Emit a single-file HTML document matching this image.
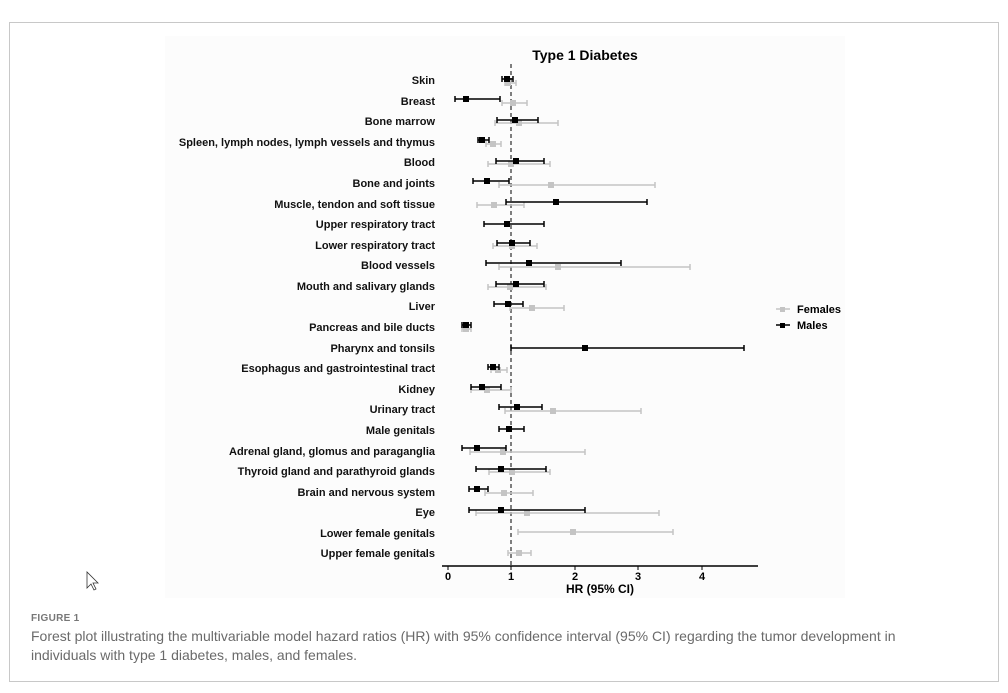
<!DOCTYPE html>
<html><head><meta charset="utf-8"><style>
body{margin:0;background:#fff;width:1008px;height:693px;overflow:hidden;font-family:"Liberation Sans",sans-serif}
.card{position:absolute;left:9px;top:22px;width:990px;height:660px;border:1px solid #c8c8c8;box-sizing:border-box}
.fig{position:absolute;left:31px;top:613px;font-size:10px;font-weight:bold;color:#777;letter-spacing:0.3px}
.cap{position:absolute;left:31px;top:627px;font-size:14px;color:#6a6a6a;line-height:19px;width:895px}
</style></head><body>
<div class="card"></div>
<svg style="position:absolute;left:0;top:0" width="1008" height="693" font-family="Liberation Sans, sans-serif">
<rect x="165" y="36" width="680" height="562" fill="#fcfcfc"/>
<text x="585" y="60" font-size="14" font-weight="bold" text-anchor="middle">Type 1 Diabetes</text>
<g font-size="11" font-weight="bold" text-anchor="end" fill="#111">
<text x="435" y="84">Skin</text>
<text x="435" y="105">Breast</text>
<text x="435" y="125">Bone marrow</text>
<text x="435" y="146">Spleen, lymph nodes, lymph vessels and thymus</text>
<text x="435" y="166">Blood</text>
<text x="435" y="187">Bone and joints</text>
<text x="435" y="208">Muscle, tendon and soft tissue</text>
<text x="435" y="228">Upper respiratory tract</text>
<text x="435" y="249">Lower respiratory tract</text>
<text x="435" y="269">Blood vessels</text>
<text x="435" y="290">Mouth and salivary glands</text>
<text x="435" y="310">Liver</text>
<text x="435" y="331">Pancreas and bile ducts</text>
<text x="435" y="352">Pharynx and tonsils</text>
<text x="435" y="372">Esophagus and gastrointestinal tract</text>
<text x="435" y="393">Kidney</text>
<text x="435" y="413">Urinary tract</text>
<text x="435" y="434">Male genitals</text>
<text x="435" y="455">Adrenal gland, glomus and paraganglia</text>
<text x="435" y="475">Thyroid gland and parathyroid glands</text>
<text x="435" y="496">Brain and nervous system</text>
<text x="435" y="516">Eye</text>
<text x="435" y="537">Lower female genitals</text>
<text x="435" y="557">Upper female genitals</text>
</g>
<line x1="511" y1="64" x2="511" y2="566" stroke="#555" stroke-width="1.5" stroke-dasharray="4,3"/>
<g id="f" stroke="#c4c4c4" stroke-width="1.5" fill="#c4c4c4"></g>
<g id="m" stroke="#000" stroke-width="1.5" fill="#000"></g>
<line x1="442" y1="566" x2="758" y2="566" stroke="#000" stroke-width="1.5"/>
<g stroke="#000"><line x1="448" y1="566" x2="448" y2="570"/><line x1="511" y1="566" x2="511" y2="570"/><line x1="575" y1="566" x2="575" y2="570"/><line x1="638" y1="566" x2="638" y2="570"/><line x1="702" y1="566" x2="702" y2="570"/></g>
<g font-size="11" font-weight="bold" text-anchor="middle"><text x="448" y="580">0</text><text x="511" y="580">1</text><text x="575" y="580">2</text><text x="638" y="580">3</text><text x="702" y="580">4</text></g>
<text x="600" y="593" font-size="12" font-weight="bold" text-anchor="middle">HR (95% CI)</text>
<line x1="776" y1="309" x2="790" y2="309" stroke="#c4c4c4" stroke-width="1.5"/><rect x="780" y="307" width="5" height="5" fill="#c4c4c4"/>
<line x1="776" y1="325" x2="790" y2="325" stroke="#000" stroke-width="1.5"/><rect x="780" y="323" width="5" height="5" fill="#000"/>
<text x="797" y="313" font-size="11" font-weight="bold">Females</text>
<text x="797" y="329" font-size="11" font-weight="bold">Males</text>
<path d="M87 572 L87 588 L91 584 L94 590 L96 589 L93 583 L98 583 Z" fill="#fff" stroke="#333" stroke-width="0.8"/>
</svg>
<div class="fig">FIGURE 1</div>
<div class="cap">Forest plot illustrating the multivariable model hazard ratios (HR) with 95% confidence interval (95% CI) regarding the tumor development in individuals with type 1 diabetes, males, and females.</div>
<script>
var F=[[83,505,508,516],[103,502,513,527],[123,495,519,558],[144,486,493,501],[164,488,511,550],[185,499,551,655],[205,477,494,524],[246,493,512,537],[267,499,558,690],[287,488,510,546],[308,510,532,564],[329,462,466,471],[370,491,498,507],[390,471,487,511],[411,505,553,641],[452,470,503,585],[472,489,512,550],[493,485,504,533],[513,476,527,659],[532,518,573,673],[553,508,519,531]];
var M=[[79,502,507,513],[99,455,466,500],[120,497,515,538],[140,478,482,489],[161,496,516,544],[181,473,487,509],[202,506,556,647],[224,484,507,544],[243,497,512,530],[263,486,529,621],[284,496,516,544],[304,494,508,523],[325,462,466,471],[348,511,585,744],[367,488,493,499],[387,471,482,501],[407,499,517,542],[429,499,509,524],[448,462,477,506],[469,476,501,546],[489,469,477,488],[510,469,501,585]];
function draw(id,d){var g=document.getElementById(id),s='';d.forEach(function(r){var y=r[0];s+='<line x1="'+r[1]+'" y1="'+y+'" x2="'+r[3]+'" y2="'+y+'"/><line x1="'+r[1]+'" y1="'+(y-3)+'" x2="'+r[1]+'" y2="'+(y+3)+'"/><line x1="'+r[3]+'" y1="'+(y-3)+'" x2="'+r[3]+'" y2="'+(y+3)+'"/><rect x="'+(r[2]-3)+'" y="'+(y-3)+'" width="6" height="6" stroke="none"/>';});g.innerHTML=s;}
draw('f',F);draw('m',M);
</script>
</body></html>
